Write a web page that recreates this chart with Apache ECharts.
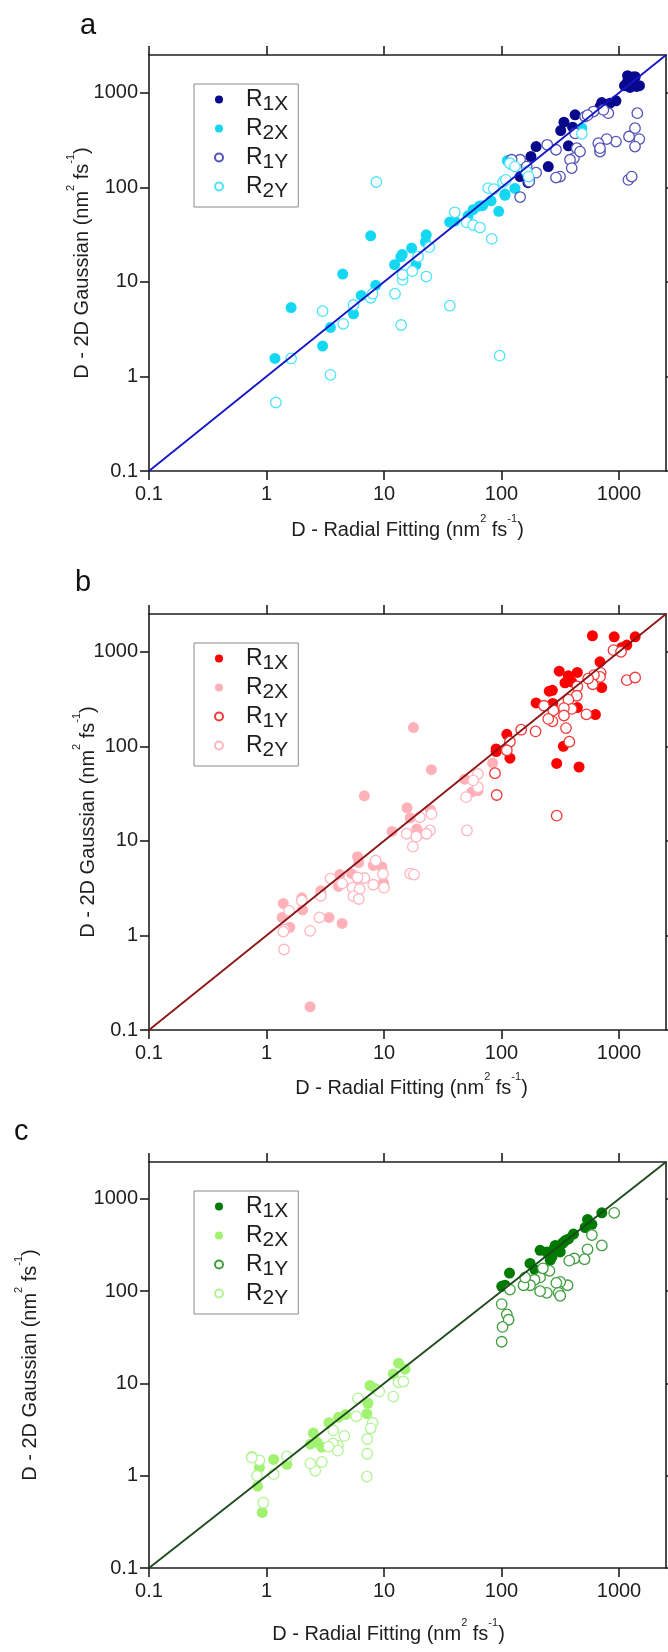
<!DOCTYPE html>
<html><head><meta charset="utf-8">
<script src="https://cdn.jsdelivr.net/npm/echarts@6/dist/echarts.min.js"></script>
<style>html,body{margin:0;padding:0;background:#fff}#c{width:668px;height:1652px}</style>
</head><body><div id="c"></div>
<script>
// ---- data ----
const tickValues = [0.1, 1, 10, 100, 1000];
const tickLabels = ['0.1', '1', '10', '100', '1000'];
const axisRange = [0.1, 2511.886];
const seriesKeys = ['R1X', 'R2X', 'R1Y', 'R2Y'];
const panelLetters = ['a', 'b', 'c'];

// panel a
const aR1X = [[1183,1517],[1374,1479],[1494,1189],[1242,1140],[1114,1189],[1310,1466],[1163,1267],[1413,1167],
  [942,822],[713,789],[689,716],[838,777],[423,585],[340,489],[319,399],[403,433],[371,275],
  [197,270],[178,212],[250,166],[172,120],[144,130],[168,112]];
const aR2X = [[1.18,1.55],[1.62,5.35],[3.0,2.1],[3.5,3.3],[4.45,12.1],[5.5,4.6],[6.4,7.2],[7.7,30.7],[8.5,9.2],
  [12.3,15.2],[13.9,18.4],[14.3,19.5],[17.2,22.8],[18.7,15.2],[22.9,31.5],[22.5,26.5],
  [36.2,43],[40,44],[51.9,50],[57.4,58],[65,63.7],[69,64],[81.5,72],[94.7,55.8],[107,82.5],[107,85],
  [112,192],[120,175],[130,97.5],[482,424]];
const aR1Y = [[1432,609],[1368,423],[1489,324],[1216,345],[1368,270],[1202,120],[1283,130],
  [942,305],[785,324],[667,293],[689,239],[689,260],[811,609],[736,660],[606,634],[514,561],[540,580],
  [423,373],[437,260],[414,204],[383,196],[396,160],[466,239],
  [291,250],[245,282],[315,130],[291,127],[197,143],[144,79],[172,115],[144,196],[122,196],[164,166]];
const aR2Y = [[1.2,0.53],[1.62,1.55],[3.0,4.9],[3.5,1.04],[4.5,3.6],[5.5,5.7],[7.7,6.8],[8.0,7.5],[8.6,114],
  [12.4,7.5],[14,3.5],[14.4,10.5],[14.4,11.9],[17.4,13],[19.5,18.5],[22.9,11.4],[24.3,23.3],
  [36.3,5.6],[40,54.5],[50.5,42.6],[57.5,40],[65.6,37.6],[82.6,28.5],[96.4,1.66],
  [77,98],[86,96],[103,114],[109,120],[118,180],[130,166],[164,147],[170,130],[483,368]];

// panel b
const bR1X = [[594,1479],[910,1442],[1373,1442],[1166,1178],[1058,1114],[689,783],[713,419],
  [310,624],[371,558],[442,605],[347,470],[395,481],[255,383],[271,392],[197,288],[273,284],[442,257],[630,217],
  [111,134],[90,94],[118,75],[336,100],[295,66],[457,60.5],[90,88]];
const bR2X = [[6.8,30],[15.7,22.4],[16.7,17.5],[19,13.4],[20.3,11.9],[11.7,12.6],[5.95,6.8],[6.1,5.9],[8.1,5.5],[9.6,5.3],[9.9,3.6],
  [4.2,4.4],[4.1,3.3],[5.3,4.5],[2.9,2.97],[2.0,2.5],[2.03,1.86],[1.39,2.18],[1.36,1.55],[1.58,1.22],[3.4,1.55],[4.4,1.34],[2.35,0.176],
  [56,33],[48.5,45],[17.8,158],[25.3,56.6],[24.8,21.4],[84,66.5],[63,34]];
const bR1Y = [[898,1042],[1040,1000],[1166,501],[1373,535],[698,599],[689,543],[612,567],[598,454],[546,520],
  [442,431],[437,343],[371,312],[396,249],[340,254],[340,212],[276,240],[271,184],[250,195],[230,269],
  [354,156],[378,112],[195,144],[147,150],[118,112],[111,91],[91,30.6],[295,18.5],[528,218],[88,52]];
const bR2Y = [[50,29],[50.8,12.9],[25.4,19.3],[24.6,12.9],[23,11.9],[20.2,17.8],[15.6,11.9],[17.6,8.7],[18.8,11.1],[16.7,4.5],[18,4.4],
  [8.5,6.2],[9.8,4.47],[10,3.2],[8.1,3.44],[6.8,4.05],[5.95,4.1],[5.4,3.2],[6.2,3.1],[5.5,2.6],[6.1,2.43],
  [4.4,3.55],[3.5,4.0],[2.9,2.63],[2.82,1.55],[2.35,1.12],[2.0,2.33],[1.56,1.82],[1.42,1.15],[1.39,1.1],[1.41,0.71],
  [63,51],[63,37],[57.5,43.6]];

// panel c
const cR1X = [[714,706],[540,600],[588,531],[515,490],[410,416],[372,368],[338,340],[306,301],[287,313],[316,266],[269,236],[260,217],
  [213,277],[175,200],[193,170],[117,157],[100.5,113],[107,116],[243,266],[330,330],[350,355],[280,290],[250,255]];
const cR2X = [[13.3,16.6],[15.1,14.3],[12,12.7],[7.6,9.5],[8.4,8.8],[7.3,6.1],[7.15,4.7],[4.7,4.6],[4.1,4.3],[3.4,3.75],[2.5,2.9],[2.36,2.2],[2.7,2.3],[2.96,2.04],
  [1.15,1.5],[1.49,1.33],[0.87,1.23],[0.84,0.77],[0.92,0.4],[0.75,1.62]];
const cR1Y = [[910,706],[714,313],[588,406],[540,284],[509,222],[416,226],[377,214],
  [365,116],[316,126],[293,123],[306,96],[316,89],[243,96],[213,100],[213,141],[256,166],[191,133],[175,116],[154,116],[159,141],[118,104],
  [100.4,72.4],[111,56],[115,49],[102,41],[100.4,28.3],[225,177]];
const cR2Y = [[13.3,10.3],[14.6,10.5],[12,7.2],[9.1,8.2],[6.0,6.9],[5.8,4.4],[8.0,3.75],[7.7,3.26],[7.2,2.5],[7.2,1.73],[7.15,0.98],
  [4.6,2.7],[4.05,2.12],[3.67,2.24],[4.05,1.87],[3.37,2.07],[2.96,1.41],[2.6,1.13],[2.36,1.36],[3.7,3.1],
  [1.49,1.62],[1.15,1.04],[0.87,1.47],[0.75,1.57],[0.83,1.0],[0.94,0.51]];

// ---- styling / layout ----
const FONT = '"Liberation Sans", Arial, Helvetica, sans-serif';
const AX = '#1e1e1e';
const panels = [
  {data:[aR1X,aR2X,aR1Y,aR2Y], colors:['#08088c','#14d8f2','#5252ba','#4fe4fa'], line:'#1414c8',
   top:55, letterPos:[80,26], yGap:55, xGap:47, xPad:[0,0,0,0]},
  {data:[bR1X,bR2X,bR1Y,bR2Y], colors:['#ff0000','#ffb1ba','#f23a3a','#ffb6c0'], line:'#8c1414',
   top:614, letterPos:[75,583], yGap:49, xGap:46, xPad:[0,0,0,8]},
  {data:[cR1X,cR2X,cR1Y,cR2Y], colors:['#007a00','#a2f272','#3e9e3e','#b2f494'], line:'#1c4a1c',
   top:1162, letterPos:[14,1132], yGap:107, xGap:54, xPad:[0,38,0,0]}
];

const labelFmt = v => {
  let best = 0, bd = Infinity;
  tickValues.forEach((t, i) => { const d = Math.abs(Math.log10(t) - Math.log10(v)); if (d < bd) { bd = d; best = i; } });
  return tickLabels[best];
};
const nameRich = {
  t: {fontSize: 20, fontFamily: FONT, color: AX, lineHeight: 24, verticalAlign: 'middle'},
  u: {fontSize: 11, fontFamily: FONT, color: AX, lineHeight: 24, verticalAlign: 'middle', padding: [0, 0, 23, 0]}
};
const xName = '{t|D - Radial Fitting (nm}{u|2}{t| fs}{u|-1}{t|)}';
const yName = '{t|D - 2D Gaussian (nm}{u|2}{t| fs}{u|-1}{t|)}';

const grid = [], xAxis = [], yAxis = [], series = [], legend = [], graphic = [];
const lineStyle = {color: AX, width: 1.6};

panels.forEach((p, i) => {
  grid.push({left: 149, top: p.top, width: 517, height: 416});
  const base = {type: 'log', logBase: 10, gridIndex: i, min: axisRange[0], max: axisRange[1],
    splitLine: {show: false}, minorTick: {show: false}, minorSplitLine: {show: false}};
  xAxis.push(Object.assign({}, base, {
    position: 'bottom',
    axisLine: {show: true, onZero: false, lineStyle},
    axisTick: {show: true, inside: false, length: 9, customValues: tickValues, lineStyle},
    axisLabel: {show: true, margin: 13, customValues: tickValues, formatter: labelFmt,
      fontSize: 20, color: AX, fontFamily: FONT},
    name: xName, nameLocation: 'middle', nameGap: p.xGap, nameMoveOverlap: false,
    nameTextStyle: {rich: nameRich, padding: p.xPad}
  }));
  xAxis.push(Object.assign({}, base, {
    position: 'top',
    axisLine: {show: true, onZero: false, lineStyle},
    axisTick: {show: true, inside: false, length: 9, customValues: tickValues, lineStyle},
    axisLabel: {show: false}
  }));
  yAxis.push(Object.assign({}, base, {
    position: 'left',
    axisLine: {show: true, onZero: false, lineStyle},
    axisTick: {show: true, inside: false, length: 9, customValues: tickValues, lineStyle},
    axisLabel: {show: true, margin: 11, customValues: tickValues, formatter: labelFmt,
      fontSize: 20, color: AX, fontFamily: FONT},
    name: yName, nameLocation: 'middle', nameGap: p.yGap, nameMoveOverlap: false,
    nameTextStyle: {rich: nameRich}
  }));
  yAxis.push(Object.assign({}, base, {
    position: 'right',
    axisLine: {show: true, onZero: false, lineStyle},
    axisTick: {show: true, inside: false, length: 9, customValues: tickValues, lineStyle},
    axisLabel: {show: false}
  }));

  const letter = panelLetters[i];
  seriesKeys.forEach((k, j) => {
    const open = j >= 2;
    series.push({
      name: letter + '_' + k, type: 'scatter', xAxisIndex: 2 * i, yAxisIndex: 2 * i,
      data: p.data[j], symbol: 'circle', symbolSize: open ? 10.5 : 11,
      itemStyle: open ? {color: '#ffffff', borderColor: p.colors[j], borderWidth: 1.3, opacity: 1}
                      : {color: p.colors[j], opacity: 1, borderWidth: 0},
      emphasis: {disabled: true}, z: 2 + j
    });
  });
  series.push({
    type: 'line', xAxisIndex: 2 * i, yAxisIndex: 2 * i, data: [[axisRange[0], axisRange[0]], [axisRange[1], axisRange[1]]],
    symbol: 'none', lineStyle: {color: p.line, width: 1.8}, silent: true, z: 10, emphasis: {disabled: true}
  });

  legend.push({
    left: 194, top: p.top + 29, orient: 'vertical', selectedMode: false,
    data: seriesKeys.map(k => letter + '_' + k),
    icon: 'circle', itemWidth: 8, itemHeight: 8, itemGap: -2, padding: [0, 10, 5, 20],
    borderColor: '#8a8a8a', borderWidth: 1, backgroundColor: '#ffffff',
    formatter: name => '{r|R}{s|' + name.split('_')[1].slice(1) + '}',
    textStyle: {rich: {
      r: {fontSize: 23, fontFamily: FONT, color: AX, padding: [0, 0, 0, 18], lineHeight: 24, verticalAlign: 'middle'},
      s: {fontSize: 21, fontFamily: FONT, color: AX, padding: [10, 0, 0, 0], lineHeight: 24, verticalAlign: 'middle'}
    }}
  });

  graphic.push({type: 'text', x: p.letterPos[0], y: p.letterPos[1],
    style: {text: letter, font: '29px ' + FONT, fill: '#111', verticalAlign: 'middle', align: 'left'}});
});

const chart = echarts.init(document.getElementById('c'), null, {renderer: 'canvas'});
chart.setOption({animation: false, backgroundColor: '#ffffff', grid, xAxis, yAxis, series, legend, graphic});
</script>
</body></html>
